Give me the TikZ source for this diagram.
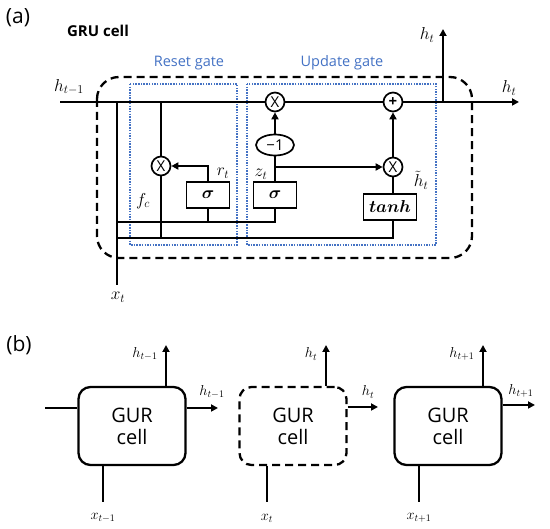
\documentclass[tikz,border=0pt]{standalone}
\usepackage{amsmath}
\usepackage{fontspec}
\setsansfont{Open Sans}
\usetikzlibrary{arrows.meta,positioning,shapes.geometric}
\definecolor{gateblue}{HTML}{4472C4}
\tikzset{
  wire/.style={line width=1.9pt},
  arrow/.style={-{Triangle[length=7pt,width=7pt]}, line width=1.9pt},
  opnode/.style={draw=black, circle, line width=1.7pt, minimum size=19pt, inner sep=0pt, fill=white, font=\sffamily\fontsize{15}{15}\selectfont},
  actbox/.style={draw=black, line width=1.7pt, minimum width=43pt, minimum height=26pt, inner sep=0pt, fill=white, font=\fontsize{19}{19}\selectfont},
  negnode/.style={draw=black, ellipse, line width=1.7pt, minimum width=38pt, minimum height=21pt, inner sep=0pt, fill=white, font=\sffamily\fontsize{15}{15}\selectfont},
  gatebox/.style={draw=gateblue, dash pattern=on 1.5pt off 1.2pt, line width=1.1pt},
  gatelabel/.style={text=gateblue, font=\sffamily\fontsize{14.5}{16}\selectfont},
  cellframe/.style={draw=black, dash pattern=on 8pt off 5pt, line width=2.3pt, rounded corners=22pt},
  cellbox/.style={draw=black, rounded corners=12pt, line width=2.3pt, minimum width=107pt, minimum height=78pt, align=center, font=\sffamily\fontsize{20}{22}\selectfont},
  panel/.style={font=\sffamily\fontsize{21}{21}\selectfont},
  lbl/.style={inner sep=0pt, font=\fontsize{18}{18}\selectfont},
  smalllbl/.style={inner sep=0pt, font=\fontsize{14}{14}\selectfont}
}
\begin{document}
\begin{tikzpicture}[x=1pt, y=-1pt]
\useasboundingbox (0,0) rectangle (550,529);
\node[panel] (pa) at (18,18) {(a)};
\node[font=\sffamily\bfseries\fontsize{15}{15}\selectfont] (title) at (98,31) {GRU cell};
\draw[cellframe] (97,77) rectangle (472,258);
\draw[gatebox] (130,84) rectangle (237,245);
\draw[gatebox] (247,84) rectangle (436,245);
\node[gatelabel] (resetlbl) at (189,63) {Reset gate};
\node[gatelabel] (updatelbl) at (342,63) {Update gate};
\coordinate (hin) at (60,102);
\coordinate (hout) at (519,102);
\coordinate (hsplit) at (443,102);
\coordinate (hup) at (443,29);
\coordinate (xin) at (117,285);
\coordinate (xtop) at (117,102);
\coordinate (bus1) at (117,222);
\coordinate (bus2) at (117,238);
\coordinate (rtap) at (161,102);
\node[opnode] (mulr) at (161,166) {X};
\node[actbox] (sigr) at (208,195) {$\boldsymbol{\sigma}$};
\node[actbox] (sigz) at (275,195) {$\boldsymbol{\sigma}$};
\node[negnode] (neg) at (275,145) {−1};
\node[opnode] (mulh) at (275,102) {X};
\node[opnode] (addh) at (393,102) {\textbf{+}};
\node[opnode] (mulc) at (393,167) {X};
\node[actbox, minimum width=53pt, font=\fontsize{17}{17}\selectfont] (tanhb) at (390,207) {$\boldsymbol{tanh}$};
\draw[wire] (hin) -- (mulh.west);
\draw[wire] (mulh.east) -- (addh.west);
\draw[arrow] (addh.east) -- (hout);
\draw[arrow] (hsplit) -- (hup);
\draw[wire] (xin) -- (xtop);
\draw[wire] (bus1) -- (sigz.south |- bus1) -- (sigz.south);
\draw[wire] (sigr.south) -- (sigr.south |- bus1);
\draw[wire] (bus2) -- (mulc.south |- bus2) -- (mulc.south |- tanhb.south);
\draw[wire] (rtap) -- (mulr.north);
\draw[wire] (mulr.south) -- (mulr.south |- bus2);
\draw[arrow] (sigr.north) |- (mulr.east);
\draw[wire] (sigz.north) -- (neg.south);
\draw[arrow] (neg.north) -- (mulh.south);
\draw[arrow] (sigz.north |- mulc) -- (mulc.west);
\draw[wire] (mulc.south |- tanhb.north) -- (mulc.south);
\draw[arrow] (mulc.north) -- (addh.south);
\node[lbl] (lhprev) at (69,87) {$h_{t-1}$};
\node[lbl] (lhup) at (427,35) {$h_t$};
\node[lbl] (lhout) at (509,88) {$h_t$};
\node[lbl] (lxt) at (118,297) {$x_t$};
\node[lbl] (lfc) at (143,201) {$f_c$};
\node[lbl] (lrt) at (223,173) {$r_t$};
\node[lbl] (lzt) at (261,174) {$z_t$};
\node[lbl] (lht) at (421,180) {$\tilde{h}_t$};
\node[panel] (pb) at (19,345) {(b)};
\node[cellbox] (cella) at (132,426) {GUR\\cell};
\node[cellbox, dash pattern=on 8pt off 5pt] (cellb) at (293,426) {GUR\\cell};
\node[cellbox] (cellc) at (448,426) {GUR\\cell};
\coordinate (ina) at (45,408);
\coordinate (upa) at (166,345);
\coordinate (upb) at (326,345);
\coordinate (upc) at (483,345);
\coordinate (outa) at (218,408);
\coordinate (outb) at (378,407);
\coordinate (outc) at (535,405);
\coordinate (xa) at (103,502);
\coordinate (xb) at (267,502);
\coordinate (xc) at (419,502);
\draw[wire] (ina) -- (ina -| cella.west);
\foreach \c/\u/\o/\x in {cella/upa/outa/xa, cellb/upb/outb/xb, cellc/upc/outc/xc} {
  \draw[arrow] (\u |- \c.north) -- (\u);
  \draw[arrow] (\c.east |- \o) -- (\o);
  \draw[wire] (\x |- \c.south) -- (\x);
}
\node[smalllbl] (lha) at (145,354) {$h_{t-1}$};
\node[smalllbl] (lra) at (212,392) {$h_{t-1}$};
\node[smalllbl] (lxa) at (103,518) {$x_{t-1}$};
\node[smalllbl] (lhb) at (311,354) {$h_t$};
\node[smalllbl] (lrb) at (368,392) {$h_t$};
\node[smalllbl] (lxb) at (267,518) {$x_t$};
\node[smalllbl] (lhc) at (462,354) {$h_{t+1}$};
\node[smalllbl] (lrc) at (521,391) {$h_{t+1}$};
\node[smalllbl] (lxc) at (419,518) {$x_{t+1}$};
\end{tikzpicture}
\end{document}
